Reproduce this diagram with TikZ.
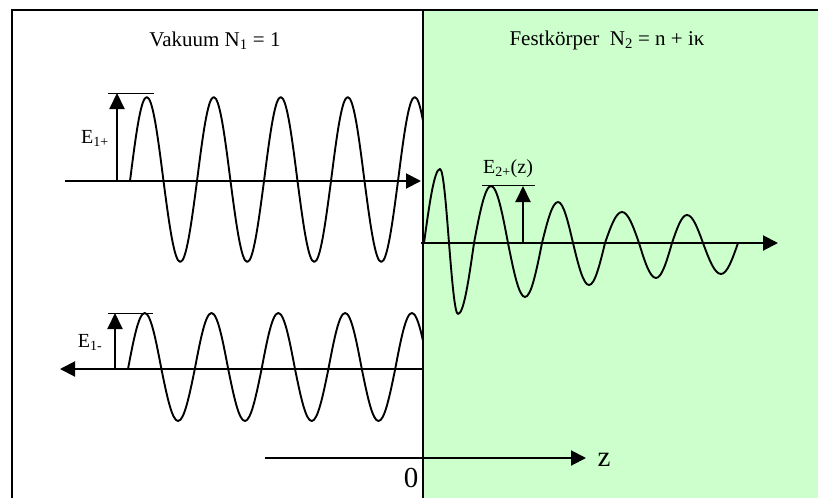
\documentclass[tikz,border=0pt]{standalone}
\usepackage{fontspec}
\setmainfont{Liberation Serif}
\usetikzlibrary{arrows.meta}
\definecolor{solidgreen}{RGB}{204,255,204}
\begin{document}
\begin{tikzpicture}[x=1pt,y=-1pt,
  axisarrow/.style={line width=2pt, -{Triangle[length=15pt,width=15pt]}},
  amparrow/.style={line width=2pt, -{Triangle[length=16pt,width=15pt]}},
  wave/.style={line width=1.9pt, line join=round},
  ampline/.style={line width=1pt},
  frame/.style={line width=2pt},
  ttl/.style={font=\fontsize{21}{21}\selectfont, inner sep=0pt, anchor=base},
  lbl/.style={font=\fontsize{20}{20}\selectfont, inner sep=0pt, anchor=base},
  big/.style={font=\fontsize{29}{29}\selectfont, inner sep=0pt, anchor=base}]
\useasboundingbox (0,0) rectangle (818,498);
\fill[white] (0,0) rectangle (818,498);
\fill[solidgreen] (423,10) rectangle (818,498);

% named points
\coordinate (tlA) at (65,181);   \coordinate (tlB) at (421,181);
\coordinate (blA) at (423,369);  \coordinate (blB) at (60,369);
\coordinate (rA) at (421,243);   \coordinate (rB) at (778,243);
\coordinate (zA) at (265,458);   \coordinate (zB) at (586,458);
\coordinate (e1pA) at (117,181); \coordinate (e1pB) at (117,93);
\coordinate (e1pL) at (108,93);  \coordinate (e1pR) at (154,93);
\coordinate (e1mA) at (115,369); \coordinate (e1mB) at (115,313);
\coordinate (e1mL) at (108,313); \coordinate (e1mR) at (153,313);
\coordinate (e2A) at (523,243);  \coordinate (e2B) at (523,186);
\coordinate (e2L) at (482,185);  \coordinate (e2R) at (535,185);

% left waves, clipped at the interface
\begin{scope}
\clip (0,0) rectangle (423,498);
\draw[wave] (130,181) \foreach \k in {0,...,4} {
   sin ({130+67*\k+16.75},97) cos ({130+67*\k+33.5},181)
   sin ({130+67*\k+50.25},262) cos ({130+67*\k+67},181) };
\draw[wave] (128,369) \foreach \k in {0,...,4} {
   sin ({128+66.8*\k+16.7},313) cos ({128+66.8*\k+33.4},369)
   sin ({128+66.8*\k+50.1},421) cos ({128+66.8*\k+66.8},369) };
\end{scope}

% damped wave in the solid
\draw[wave] (424,243) sin (440,169) cos (449,243) sin (458,314) cos (474,243)
  sin (491,186) cos (508,243) sin (525,297) cos (542,243)
  sin (558,202) cos (573,243) sin (589,285) cos (605,243)
  sin (622,212) cos (639,243) sin (656,278) cos (672,243)
  sin (687,215) cos (703,243) sin (721,274) cos (738,243);

% frame
\draw[frame] (12,498) -- (12,10) -- (818,10);
\draw[frame] (423,10) -- (423,498);

% axes
\draw[axisarrow] (tlA) -- (tlB);
\draw[axisarrow] (blA) -- (blB);
\draw[axisarrow] (rA) -- (rB);
\draw[axisarrow] (zA) -- (zB);

% amplitude markers
\draw[amparrow] (e1pA) -- (e1pB);
\draw[ampline] (e1pL) -- (e1pR);
\draw[amparrow] (e1mA) -- (e1mB);
\draw[ampline] (e1mL) -- (e1mR);
\draw[amparrow] (e2A) -- (e2B);
\draw[ampline] (e2L) -- (e2R);

% texts
\node[ttl] (vak) at (215,46) {Vakuum N\textsubscript{1} = 1};
\node[ttl] (fest) at (607,45) {Festkörper\ \ N\textsubscript{2} = n + iκ};
\node[lbl] (e1p) at (95,143) {E\textsubscript{1+}};
\node[lbl] (e1m) at (90,347) {E\textsubscript{1-}};
\node[lbl] (e2p) at (508,173) {E\textsubscript{2+}(z)};
\node[big] (zero) at (411,487) {0};
\node[big] (zz) at (604,466) {z};
\end{tikzpicture}
\end{document}
